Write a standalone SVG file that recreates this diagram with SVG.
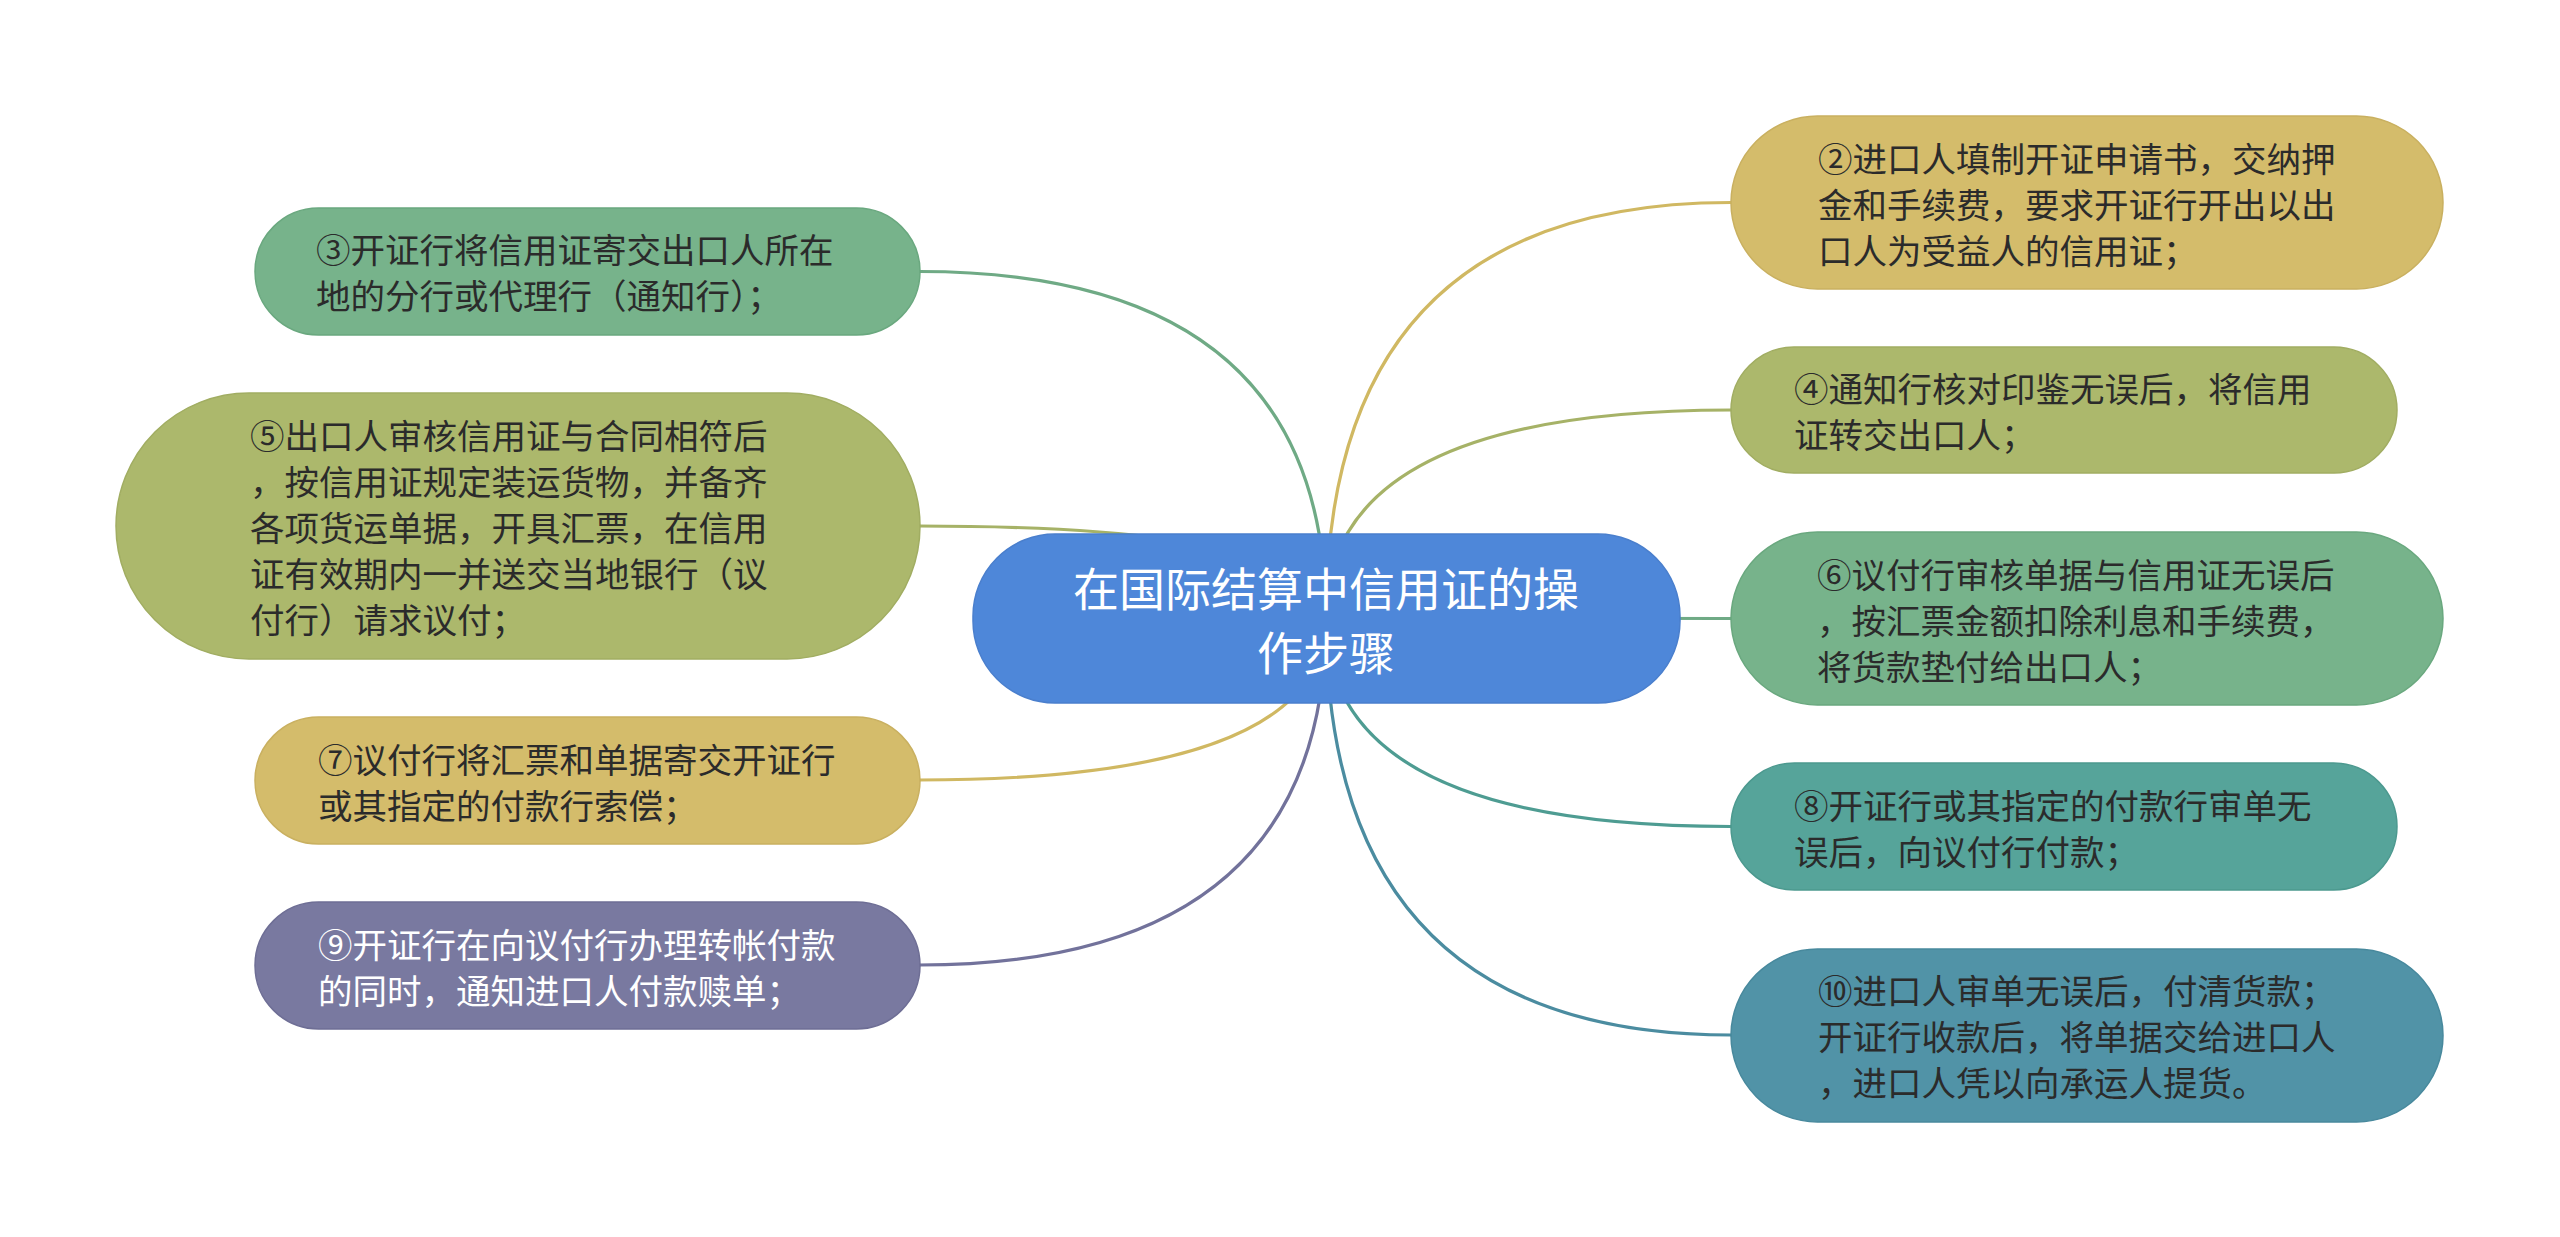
<svg xmlns="http://www.w3.org/2000/svg" width="2560" height="1237" viewBox="0 0 2560 1237">
<style>
.t{font-family:"Noto Sans CJK SC","Microsoft YaHei",sans-serif;font-size:34.5px;fill:#2b2b2b}
.w{fill:#ffffff}
.c{font-family:"Noto Sans CJK SC","Microsoft YaHei",sans-serif;font-size:46px;fill:#ffffff;text-anchor:middle}
.ln{fill:none;stroke-width:3.2;stroke-linecap:round}
.n{stroke-width:1.5}
</style>
<rect width="2560" height="1237" fill="#ffffff"/>
<g id="connectors">
<path class="ln" stroke="#6faa85" d="M1326,618 Q1326,271.5 919,271.5"/>
<path class="ln" stroke="#a6b267" d="M1326,618 Q1326,526 919,526"/>
<path class="ln" stroke="#d0b862" d="M1326,618 Q1326,780 919,780"/>
<path class="ln" stroke="#72729b" d="M1326,618 Q1326,965 919,965"/>
<path class="ln" stroke="#d0b862" d="M1326,618 Q1326,202.5 1731,202.5"/>
<path class="ln" stroke="#a6b267" d="M1326,618 Q1326,410 1731,410"/>
<path class="ln" stroke="#6faa85" d="M1326,618 Q1326,618.5 1731,618.5"/>
<path class="ln" stroke="#4e9c92" d="M1326,618 Q1326,826.5 1731,826.5"/>
<path class="ln" stroke="#4b8ca0" d="M1326,618 Q1326,1035 1731,1035"/>
</g>
<g id="center">
<rect x="973" y="534" width="707" height="169" rx="82" fill="#4e87d9" stroke="#4a7fcd" stroke-width="1.5"/>
<text class="c" x="1326" y="606">在国际结算中信用证的操</text>
<text class="c" x="1326" y="670">作步骤</text>
</g>
<g id="n3">
<rect class="n" x="255" y="208" width="665" height="127" rx="63.5" fill="#77b38b" stroke="#6aa87f"/>
<text class="t" x="316" y="263">③开证行将信用证寄交出口人所在</text>
<text class="t" x="316" y="309">地的分行或代理行（通知行）；</text>
</g>
<g id="n5">
<rect class="n" x="116" y="393" width="804" height="266" rx="133" fill="#acb86c" stroke="#a1ad62"/>
<text class="t" x="250" y="449">⑤出口人审核信用证与合同相符后</text>
<text class="t" x="250" y="495">，按信用证规定装运货物，并备齐</text>
<text class="t" x="250" y="541">各项货运单据，开具汇票，在信用</text>
<text class="t" x="250" y="587">证有效期内一并送交当地银行（议</text>
<text class="t" x="250" y="633">付行）请求议付；</text>
</g>
<g id="n7">
<rect class="n" x="255" y="717" width="665" height="127" rx="63.5" fill="#d4bc6b" stroke="#c9b060"/>
<text class="t" x="318" y="773">⑦议付行将汇票和单据寄交开证行</text>
<text class="t" x="318" y="819">或其指定的付款行索偿；</text>
</g>
<g id="n9">
<rect class="n" x="255" y="902" width="665" height="127" rx="63.5" fill="#7979a0" stroke="#6e6e95"/>
<text class="t w" x="318" y="958">⑨开证行在向议付行办理转帐付款</text>
<text class="t w" x="318" y="1004">的同时，通知进口人付款赎单；</text>
</g>
<g id="n2">
<rect class="n" x="1731" y="116" width="712" height="173" rx="86.5" fill="#d4bc6b" stroke="#c9b060"/>
<text class="t" x="1818" y="172">②进口人填制开证申请书，交纳押</text>
<text class="t" x="1818" y="218">金和手续费，要求开证行开出以出</text>
<text class="t" x="1818" y="264">口人为受益人的信用证；</text>
</g>
<g id="n4">
<rect class="n" x="1731" y="347" width="666" height="126" rx="63" fill="#acb86c" stroke="#a1ad62"/>
<text class="t" x="1794" y="402">④通知行核对印鉴无误后，将信用</text>
<text class="t" x="1794" y="448">证转交出口人；</text>
</g>
<g id="n6">
<rect class="n" x="1731" y="532" width="712" height="173" rx="86.5" fill="#77b38b" stroke="#6aa87f"/>
<text class="t" x="1817" y="588">⑥议付行审核单据与信用证无误后</text>
<text class="t" x="1817" y="634">，按汇票金额扣除利息和手续费，</text>
<text class="t" x="1817" y="680">将货款垫付给出口人；</text>
</g>
<g id="n8">
<rect class="n" x="1731" y="763" width="666" height="127" rx="63.5" fill="#56a49a" stroke="#4c998f"/>
<text class="t" x="1794" y="819">⑧开证行或其指定的付款行审单无</text>
<text class="t" x="1794" y="865">误后，向议付行付款；</text>
</g>
<g id="n10">
<rect class="n" x="1731" y="949" width="712" height="173" rx="86.5" fill="#5193a7" stroke="#48899d"/>
<text class="t" x="1818" y="1004">⑩进口人审单无误后，付清货款；</text>
<text class="t" x="1818" y="1050">开证行收款后，将单据交给进口人</text>
<text class="t" x="1818" y="1096">，进口人凭以向承运人提货。</text>
</g>
</svg>
